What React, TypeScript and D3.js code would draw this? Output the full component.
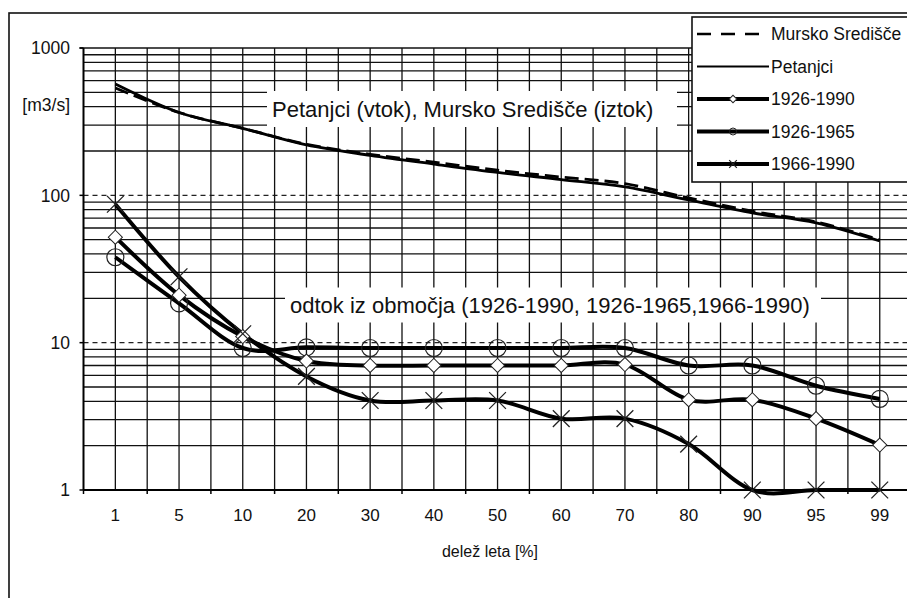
import React, { useEffect, useRef } from "react";
import * as d3 from "d3";

// delež leta [%]
const categories = ["1", "5", "10", "20", "30", "40", "50", "60", "70", "80", "90", "95", "99"];

// pretoki [m3/s]
const murskoSredisce = [535, 365, 285, 222, 190, 168, 148, 133, 120, 96, 78, 66, 50];
const petanjci = [570, 365, 285, 220, 187, 163, 143, 128, 114, 93, 76, 65, 49];
const odtok1926_1990 = [52, 21, 11, 7.5, 7, 7, 7, 7, 7.1, 4.1, 4.1, 3.05, 2.02];
const odtok1926_1965 = [38, 18.5, 9.2, 9.3, 9.2, 9.2, 9.2, 9.2, 9.2, 7, 7, 5.1, 4.15];
const odtok1966_1990 = [87, 28, 11.5, 5.9, 4.05, 4.05, 4.05, 3.05, 3.05, 2.05, 1, 1, 1];

const yTicks = [1, 10, 100, 1000];
const yTickLabels = ["1", "10", "100", "1000"];

const legendLabels = ["Mursko Središče", "Petanjci", "1926-1990", "1926-1965", "1966-1990"];

const FONT = "'Liberation Sans', Arial, sans-serif";

function App() {
    const svgRef = useRef(null);

    useEffect(() => {
        const width = 907;
        const height = 598;
        const plot = { left: 83.5, top: 48, bottom: 490, step: 63.7 };
        const gridColor = "#111";

        const svg = d3.select(svgRef.current);
        svg.selectAll("*").remove();

        const x = d3
            .scaleBand()
            .domain(categories)
            .range([plot.left, plot.left + categories.length * plot.step])
            .padding(0);
        const bw = x.bandwidth();
        const cx = (c) => x(c) + bw / 2;

        const y = d3.scaleLog().domain([1, 1000]).range([plot.bottom, plot.top]);

        // outer frame
        svg.append("rect")
            .attr("x", 9)
            .attr("y", 13)
            .attr("width", width + 20)
            .attr("height", height + 20)
            .attr("fill", "white")
            .attr("stroke", "#111")
            .attr("stroke-width", 1.6);

        const grid = svg.append("g");

        // horizontal minor grid (2..9 in every decade)
        const minor = [];
        [1, 10, 100].forEach((dec) => {
            for (let k = 2; k <= 9; k++) minor.push(dec * k);
        });
        grid.selectAll(".hminor")
            .data(minor)
            .enter()
            .append("line")
            .attr("x1", plot.left)
            .attr("x2", width + 10)
            .attr("y1", (d) => y(d))
            .attr("y2", (d) => y(d))
            .attr("stroke", gridColor)
            .attr("stroke-width", 1.3);

        // dashed decade lines
        grid.selectAll(".hmajor")
            .data([10, 100])
            .enter()
            .append("line")
            .attr("x1", plot.left)
            .attr("x2", width + 10)
            .attr("y1", (d) => y(d))
            .attr("y2", (d) => y(d))
            .attr("stroke", "#222")
            .attr("stroke-width", 1.1)
            .attr("stroke-dasharray", "5,4");

        // top line (1000)
        grid.append("line")
            .attr("x1", plot.left - 4)
            .attr("x2", width + 10)
            .attr("y1", y(1000))
            .attr("y2", y(1000))
            .attr("stroke", gridColor)
            .attr("stroke-width", 1.4);

        // vertical grid at band centers and boundaries
        const vlines = [];
        categories.forEach((c) => {
            vlines.push(x(c));
            vlines.push(cx(c));
        });
        grid.selectAll(".vgrid")
            .data(vlines.slice(1))
            .enter()
            .append("line")
            .attr("x1", (d) => d)
            .attr("x2", (d) => d)
            .attr("y1", plot.top)
            .attr("y2", plot.bottom)
            .attr("stroke", gridColor)
            .attr("stroke-width", 1.3);

        // axes
        grid.append("line")
            .attr("x1", plot.left)
            .attr("x2", plot.left)
            .attr("y1", plot.top)
            .attr("y2", plot.bottom)
            .attr("stroke", "#000")
            .attr("stroke-width", 2);
        grid.append("line")
            .attr("x1", plot.left)
            .attr("x2", width + 10)
            .attr("y1", plot.bottom)
            .attr("y2", plot.bottom)
            .attr("stroke", "#000")
            .attr("stroke-width", 2);

        // x ticks at band boundaries
        grid.selectAll(".xtick")
            .data(categories)
            .enter()
            .append("line")
            .attr("x1", (d) => x(d))
            .attr("x2", (d) => x(d))
            .attr("y1", plot.bottom)
            .attr("y2", plot.bottom + 4)
            .attr("stroke", "#000")
            .attr("stroke-width", 1.5);

        // y ticks
        grid.selectAll(".ytick")
            .data(yTicks)
            .enter()
            .append("line")
            .attr("x1", plot.left - 4)
            .attr("x2", plot.left)
            .attr("y1", (d) => y(d))
            .attr("y2", (d) => y(d))
            .attr("stroke", "#000")
            .attr("stroke-width", 1.5);

        // tick labels
        svg.selectAll(".ylabel")
            .data(yTicks)
            .enter()
            .append("text")
            .attr("x", 70)
            .attr("y", (d) => y(d))
            .attr("dy", "0.36em")
            .attr("text-anchor", "end")
            .style("font-family", FONT)
            .style("font-size", "17.5px")
            .style("fill", "#111")
            .text((d, i) => yTickLabels[i]);

        svg.append("text")
            .attr("x", 70)
            .attr("y", 105)
            .attr("dy", "0.36em")
            .attr("text-anchor", "end")
            .style("font-family", FONT)
            .style("font-size", "17.5px")
            .style("fill", "#111")
            .text("[m3/s]");

        svg.selectAll(".xlabel")
            .data(categories)
            .enter()
            .append("text")
            .attr("x", (d) => cx(d))
            .attr("y", 521)
            .attr("text-anchor", "middle")
            .style("font-family", FONT)
            .style("font-size", "17px")
            .style("fill", "#111")
            .text((d) => d);

        svg.append("text")
            .attr("x", 490)
            .attr("y", 557)
            .attr("text-anchor", "middle")
            .style("font-family", FONT)
            .style("font-size", "16px")
            .style("fill", "#111")
            .text("delež leta [%]");

        // annotation boxes
        const notes = [
            { text: "Petanjci (vtok), Mursko Središče (iztok)", x: 270, y: 109, w: 410, h: 36 },
            { text: "odtok iz območja (1926-1990, 1926-1965,1966-1990)", x: 288, y: 305, w: 536, h: 35 },
        ];
        notes.forEach((n) => {
            svg.append("rect")
                .attr("x", n.x - 3)
                .attr("y", n.y - n.h / 2)
                .attr("width", n.w)
                .attr("height", n.h)
                .attr("fill", "white");
            svg.append("text")
                .attr("x", n.x + 2)
                .attr("y", n.y)
                .attr("dy", "0.36em")
                .style("font-family", FONT)
                .style("font-size", "22px")
                .style("fill", "#111")
                .text(n.text);
        });

        // data lines
        const line = d3
            .line()
            .x((d, i) => cx(categories[i]))
            .y((d) => y(d))
            .curve(d3.curveCardinal.tension(0));

        const series = [
            { values: petanjci, width: 2.8, dash: null },
            { values: murskoSredisce, width: 2.8, dash: "14,6" },
            { values: odtok1926_1965, width: 4, dash: null },
            { values: odtok1926_1990, width: 4, dash: null },
            { values: odtok1966_1990, width: 4, dash: null },
        ];
        series.forEach((s) => {
            svg.append("path")
                .datum(s.values)
                .attr("d", line)
                .attr("fill", "none")
                .attr("stroke", "#000")
                .attr("stroke-width", s.width)
                .attr("stroke-dasharray", s.dash);
        });

        // markers
        const diamond = d3.symbol(d3.symbolSquare, 100);
        const cross = d3.symbol(d3.symbolX, 185);

        svg.selectAll(".m-circle")
            .data(odtok1926_1965)
            .enter()
            .append("circle")
            .attr("cx", (d, i) => cx(categories[i]))
            .attr("cy", (d) => y(d))
            .attr("r", 8.5)
            .attr("fill", "none")
            .attr("stroke", "#222")
            .attr("stroke-width", 1.2);

        svg.selectAll(".m-diamond")
            .data(odtok1926_1990)
            .enter()
            .append("path")
            .attr("d", diamond)
            .attr("transform", (d, i) => "translate(" + cx(categories[i]) + "," + y(d) + ") rotate(45)")
            .attr("fill", "white")
            .attr("stroke", "#222")
            .attr("stroke-width", 1);

        svg.selectAll(".m-cross")
            .data(odtok1966_1990)
            .enter()
            .append("path")
            .attr("d", cross)
            .attr("transform", (d, i) => "translate(" + cx(categories[i]) + "," + y(d) + ")")
            .attr("fill", "none")
            .attr("stroke", "#222")
            .attr("stroke-width", 1.3);

        // legend
        const lg = svg.append("g");
        lg.append("rect")
            .attr("x", 692)
            .attr("y", 17)
            .attr("width", 260)
            .attr("height", 165)
            .attr("fill", "white")
            .attr("stroke", "#111")
            .attr("stroke-width", 1.6);

        const rowY = d3.scalePoint().domain(legendLabels).range([34, 164]);
        const legendStyles = [
            { width: 2.6, dash: "14,10", marker: null },
            { width: 1.8, dash: null, marker: null },
            { width: 4, dash: null, marker: "diamond" },
            { width: 4, dash: null, marker: "circle" },
            { width: 4, dash: null, marker: "cross" },
        ];
        legendLabels.forEach((label, i) => {
            const ly = rowY(label);
            const st = legendStyles[i];
            lg.append("line")
                .attr("x1", 697)
                .attr("x2", 769)
                .attr("y1", ly)
                .attr("y2", ly)
                .attr("stroke", "#000")
                .attr("stroke-width", st.width)
                .attr("stroke-dasharray", st.dash);
            if (st.marker === "diamond") {
                lg.append("path")
                    .attr("d", d3.symbol(d3.symbolSquare, 28)())
                    .attr("transform", "translate(733," + ly + ") rotate(45)")
                    .attr("fill", "white")
                    .attr("stroke", "#222")
                    .attr("stroke-width", 1);
            } else if (st.marker === "circle") {
                lg.append("circle")
                    .attr("cx", 733)
                    .attr("cy", ly)
                    .attr("r", 3.5)
                    .attr("fill", "none")
                    .attr("stroke", "#222")
                    .attr("stroke-width", 1);
            } else if (st.marker === "cross") {
                lg.append("path")
                    .attr("d", d3.symbol(d3.symbolX, 40)())
                    .attr("transform", "translate(733," + ly + ")")
                    .attr("fill", "none")
                    .attr("stroke", "#222")
                    .attr("stroke-width", 1.2);
            }
            lg.append("text")
                .attr("x", 771)
                .attr("y", ly)
                .attr("dy", "0.36em")
                .style("font-family", FONT)
                .style("font-size", "17.5px")
                .style("fill", "#111")
                .text(label);
        });
    }, []);

    return (
        <svg
            ref={svgRef}
            width={907}
            height={598}
            style={{ position: "fixed", left: 0, top: 0, background: "white" }}
        ></svg>
    );
}

export default App;
